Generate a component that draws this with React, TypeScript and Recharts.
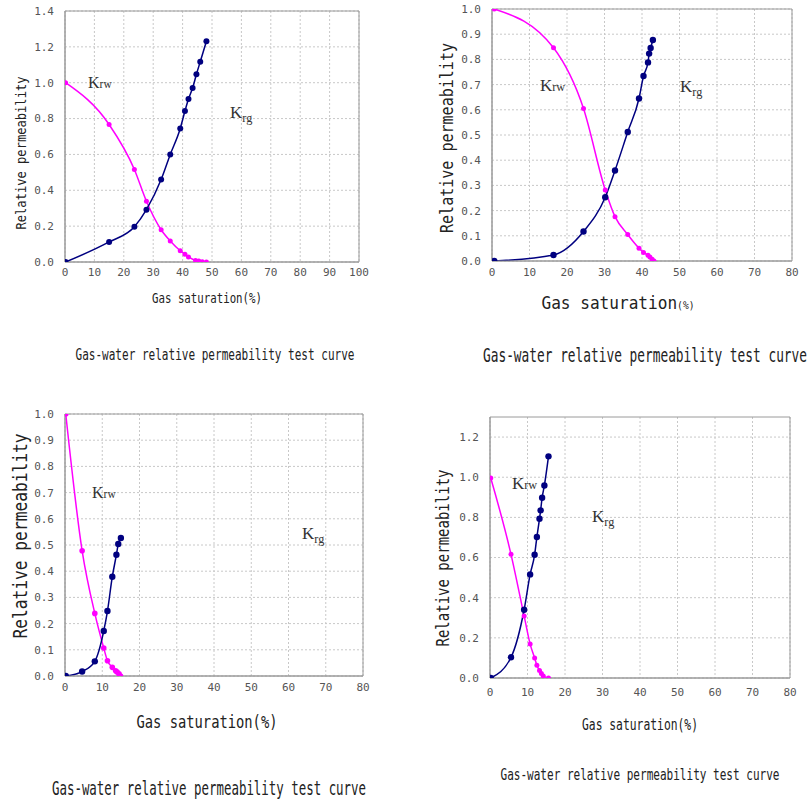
import { LineChart, Line, XAxis, YAxis, CartesianGrid, ReferenceArea } from 'recharts';
import type { ReactNode } from 'react';

// ---- data (Sg in %, relative permeability) ----
const p1SgKrw = [0.2, 15, 23.6, 27.7, 32.7, 35.8, 39.2, 40.8, 42.0, 44.4, 45.5, 46.7, 48.1];
const p1Krw = [1.0, 0.767, 0.516, 0.339, 0.18, 0.117, 0.063, 0.043, 0.028, 0.009, 0.006, 0.002, 0.0];
const p1SgKrg = [0.2, 15, 23.6, 27.7, 32.7, 35.8, 39.2, 40.8, 42.0, 43.4, 44.7, 46.0, 48.1];
const p1Krg = [0, 0.112, 0.196, 0.292, 0.46, 0.6, 0.745, 0.842, 0.909, 0.97, 1.047, 1.117, 1.231];

const p2SgKrw = [0.6, 16.4, 24.4, 30.2, 32.8, 36.2, 39.2, 40.4, 41.6, 42.1, 42.7, 43.2];
const p2Krw = [1.0, 0.846, 0.605, 0.282, 0.176, 0.105, 0.051, 0.034, 0.023, 0.016, 0.007, 0.0];
const p2SgKrg = [0.6, 16.4, 24.4, 30.2, 32.8, 36.2, 39.2, 40.4, 41.6, 41.9, 42.3, 42.9];
const p2Krg = [0, 0.024, 0.117, 0.253, 0.359, 0.512, 0.645, 0.734, 0.788, 0.823, 0.845, 0.877];

const p3SgKrw = [0.2, 4.6, 8.0, 10.4, 11.4, 12.7, 13.6, 14.0, 14.5, 14.9];
const p3Krw = [1.0, 0.478, 0.239, 0.107, 0.058, 0.033, 0.02, 0.015, 0.008, 0.0];
const p3SgKrg = [0.2, 4.6, 8.0, 10.4, 11.4, 12.7, 13.8, 14.3, 15.0];
const p3Krg = [0, 0.017, 0.056, 0.172, 0.248, 0.379, 0.463, 0.504, 0.527];

const p4SgKrw = [0.2, 5.6, 9.1, 10.7, 11.9, 12.5, 13.2, 13.7, 14.2, 15.6];
const p4Krw = [0.996, 0.616, 0.309, 0.169, 0.1, 0.063, 0.037, 0.022, 0.01, 0.0];
const p4SgKrg = [0.2, 5.6, 9.1, 10.7, 11.9, 12.5, 13.2, 13.5, 13.9, 14.5, 15.6];
const p4Krg = [0, 0.103, 0.34, 0.516, 0.614, 0.702, 0.793, 0.835, 0.898, 0.959, 1.104];

const xTicks100 = [0, 10, 20, 30, 40, 50, 60, 70, 80, 90, 100];
const xTicks80 = [0, 10, 20, 30, 40, 50, 60, 70, 80];
const yTicks14 = [0, 0.2, 0.4, 0.6, 0.8, 1.0, 1.2, 1.4];
const yTicks10 = [0, 0.1, 0.2, 0.3, 0.4, 0.5, 0.6, 0.7, 0.8, 0.9, 1.0];
const yTicks12 = [0, 0.2, 0.4, 0.6, 0.8, 1.0, 1.2];

const caption = 'Gas-water relative permeability test curve';

const MAGENTA = '#ff00ff';
const NAVY = '#000080';
const MONO = '"DejaVu Sans Mono", monospace';
const SERIF = '"Liberation Serif", serif';

const zip = (xs: number[], ys: number[]) => xs.map((x, i) => ({ x, y: ys[i] }));

type PanelProps = {
  left: number;
  top: number;
  width: number;
  height: number;
  margin: { top: number; right: number; bottom: number };
  yWidth: number;
  xMax: number;
  yMax: number;
  xTicks: number[];
  yTicks: number[];
  krw: { x: number; y: number }[];
  krg: { x: number; y: number }[];
  tickSize: number;
  krwR: number;
  krgR: number;
};

function Panel(p: PanelProps) {
  const tick = { fontSize: 11, fill: '#555', fontFamily: MONO };
  return (
    <div style={{ position: 'absolute', left: p.left, top: p.top }}>
      <LineChart width={p.width} height={p.height} margin={{ ...p.margin, left: 0 }}>
        <CartesianGrid stroke="#c8c8c8" strokeDasharray="2 2" horizontalValues={p.yTicks} verticalValues={p.xTicks} />
        <ReferenceArea x1={0} x2={p.xMax} y1={0} y2={p.yMax} fill="none" stroke="#9a9a9a" strokeWidth={1} ifOverflow="visible" />
        <XAxis
          type="number"
          dataKey="x"
          domain={[0, p.xMax]}
          ticks={p.xTicks}
          tickLine={false}
          tickSize={4}
          tickMargin={p.tickSize}
          axisLine={{ stroke: '#9a9a9a' }}
          tick={tick}
          height={20}
          allowDataOverflow
        />
        <YAxis
          type="number"
          domain={[0, p.yMax]}
          ticks={p.yTicks}
          tickFormatter={(v: number) => v.toFixed(1)}
          tickLine={false}
          tickSize={4}
          tickMargin={7}
          axisLine={{ stroke: '#9a9a9a' }}
          tick={tick}
          width={p.yWidth}
          allowDataOverflow
        />
        <Line
          data={p.krw}
          dataKey="y"
          type="monotone"
          stroke={MAGENTA}
          strokeWidth={1.5}
          dot={{ r: p.krwR, fill: MAGENTA, stroke: MAGENTA, strokeWidth: 0 }}
          isAnimationActive={false}
        />
        <Line
          data={p.krg}
          dataKey="y"
          type="monotone"
          stroke={NAVY}
          strokeWidth={1.5}
          dot={{ r: p.krgR, fill: NAVY, stroke: NAVY, strokeWidth: 0 }}
          isAnimationActive={false}
        />
      </LineChart>
    </div>
  );
}

// monospace text squeezed to a target width, centred on (cx, cy)
function Txt({ cx, cy, w, size, units, rotate, children }: {
  cx: number; cy: number; w: number; size: number; units: number; rotate?: boolean; children: ReactNode;
}) {
  const sx = w / (units * 0.602 * size);
  return (
    <div
      style={{
        position: 'absolute',
        left: cx,
        top: cy,
        transform: `translate(-50%, -50%)${rotate ? ' rotate(-90deg)' : ''} scaleX(${sx})`,
        whiteSpace: 'nowrap',
        fontFamily: MONO,
        fontSize: size,
        lineHeight: 1,
        color: '#222',
      }}
    >
      {children}
    </div>
  );
}

function K({ left, cy, sub, lowered, size = 17 }: { left: number; cy: number; sub: string; lowered?: boolean; size?: number }) {
  return (
    <div
      style={{
        position: 'absolute',
        left,
        top: cy,
        transform: 'translateY(-50%)',
        fontFamily: SERIF,
        fontSize: size,
        lineHeight: 1,
        color: '#333',
        whiteSpace: 'nowrap',
      }}
    >
      K<span style={{ fontSize: size * 0.72, position: 'relative', top: lowered ? 4 : 0 }}>{sub}</span>
    </div>
  );
}

export default function App() {
  return (
    <div style={{ position: 'absolute', left: 0, top: 0, width: 810, height: 804, background: '#fff', overflow: 'hidden' }}>
      <Panel
        left={0} top={0} width={380} height={300}
        margin={{ top: 11, right: 21, bottom: 18 }} yWidth={65}
        xMax={100} yMax={1.4} xTicks={xTicks100} yTicks={yTicks14}
        krw={zip(p1SgKrw, p1Krw)} krg={zip(p1SgKrg, p1Krg)} tickSize={2} krwR={2.5} krgR={3}
      />
      <Panel
        left={420} top={0} width={390} height={300}
        margin={{ top: 9, right: 18, bottom: 19 }} yWidth={72}
        xMax={80} yMax={1.0} xTicks={xTicks80} yTicks={yTicks10}
        krw={zip(p2SgKrw, p2Krw)} krg={zip(p2SgKrg, p2Krg)} tickSize={3} krwR={2.5} krgR={3.2}
      />
      <Panel
        left={0} top={400} width={380} height={300}
        margin={{ top: 14, right: 17, bottom: 4 }} yWidth={65}
        xMax={80} yMax={1.0} xTicks={xTicks80} yTicks={yTicks10}
        krw={zip(p3SgKrw, p3Krw)} krg={zip(p3SgKrg, p3Krg)} tickSize={3} krwR={2.8} krgR={3.2}
      />
      <Panel
        left={420} top={400} width={390} height={300}
        margin={{ top: 17, right: 20, bottom: 2 }} yWidth={70}
        xMax={80} yMax={1.3} xTicks={xTicks80} yTicks={yTicks12}
        krw={zip(p4SgKrw, p4Krw)} krg={zip(p4SgKrg, p4Krg)} tickSize={6} krwR={2.5} krgR={3.2}
      />

      {/* curve labels */}
      <K left={88} cy={83} sub="rw" size={16} />
      <K left={230} cy={112} sub="rg" lowered size={17} />
      <K left={540} cy={85} sub="rw" size={17} />
      <K left={680} cy={86} sub="rg" lowered size={17} />
      <K left={92} cy={493} sub="rw" size={16} />
      <K left={302} cy={533} sub="rg" lowered size={17} />
      <K left={512} cy={483} sub="rw" size={17} />
      <K left={592} cy={516} sub="rg" lowered size={17} />

      {/* y axis titles */}
      <Txt cx={21} cy={153} w={153} size={14} units={21} rotate>Relative permeability</Txt>
      <Txt cx={447} cy={138} w={190} size={18} units={21} rotate>Relative permeability</Txt>
      <Txt cx={20} cy={536} w={205} size={19} units={21} rotate>Relative permeability</Txt>
      <Txt cx={443} cy={558} w={177} size={17} units={21} rotate>Relative permeability</Txt>

      {/* x axis titles */}
      <Txt cx={207} cy={298} w={110} size={14} units={17}>Gas saturation(%)</Txt>
      <Txt cx={618} cy={303} w={153} size={18} units={14 + 3 * 0.6}>
        Gas saturation<span style={{ fontSize: 18 * 0.6 }}>(%)</span>
      </Txt>
      <Txt cx={207} cy={722} w={141} size={18} units={17}>Gas saturation(%)</Txt>
      <Txt cx={640} cy={725} w={116} size={15} units={17}>Gas saturation(%)</Txt>

      {/* captions */}
      <Txt cx={215} cy={355} w={279} size={15} units={42}>{caption}</Txt>
      <Txt cx={645} cy={355} w={324} size={20} units={42}>{caption}</Txt>
      <Txt cx={209} cy={788} w={314} size={20} units={42}>{caption}</Txt>
      <Txt cx={640} cy={775} w={279} size={16} units={42}>{caption}</Txt>
    </div>
  );
}
